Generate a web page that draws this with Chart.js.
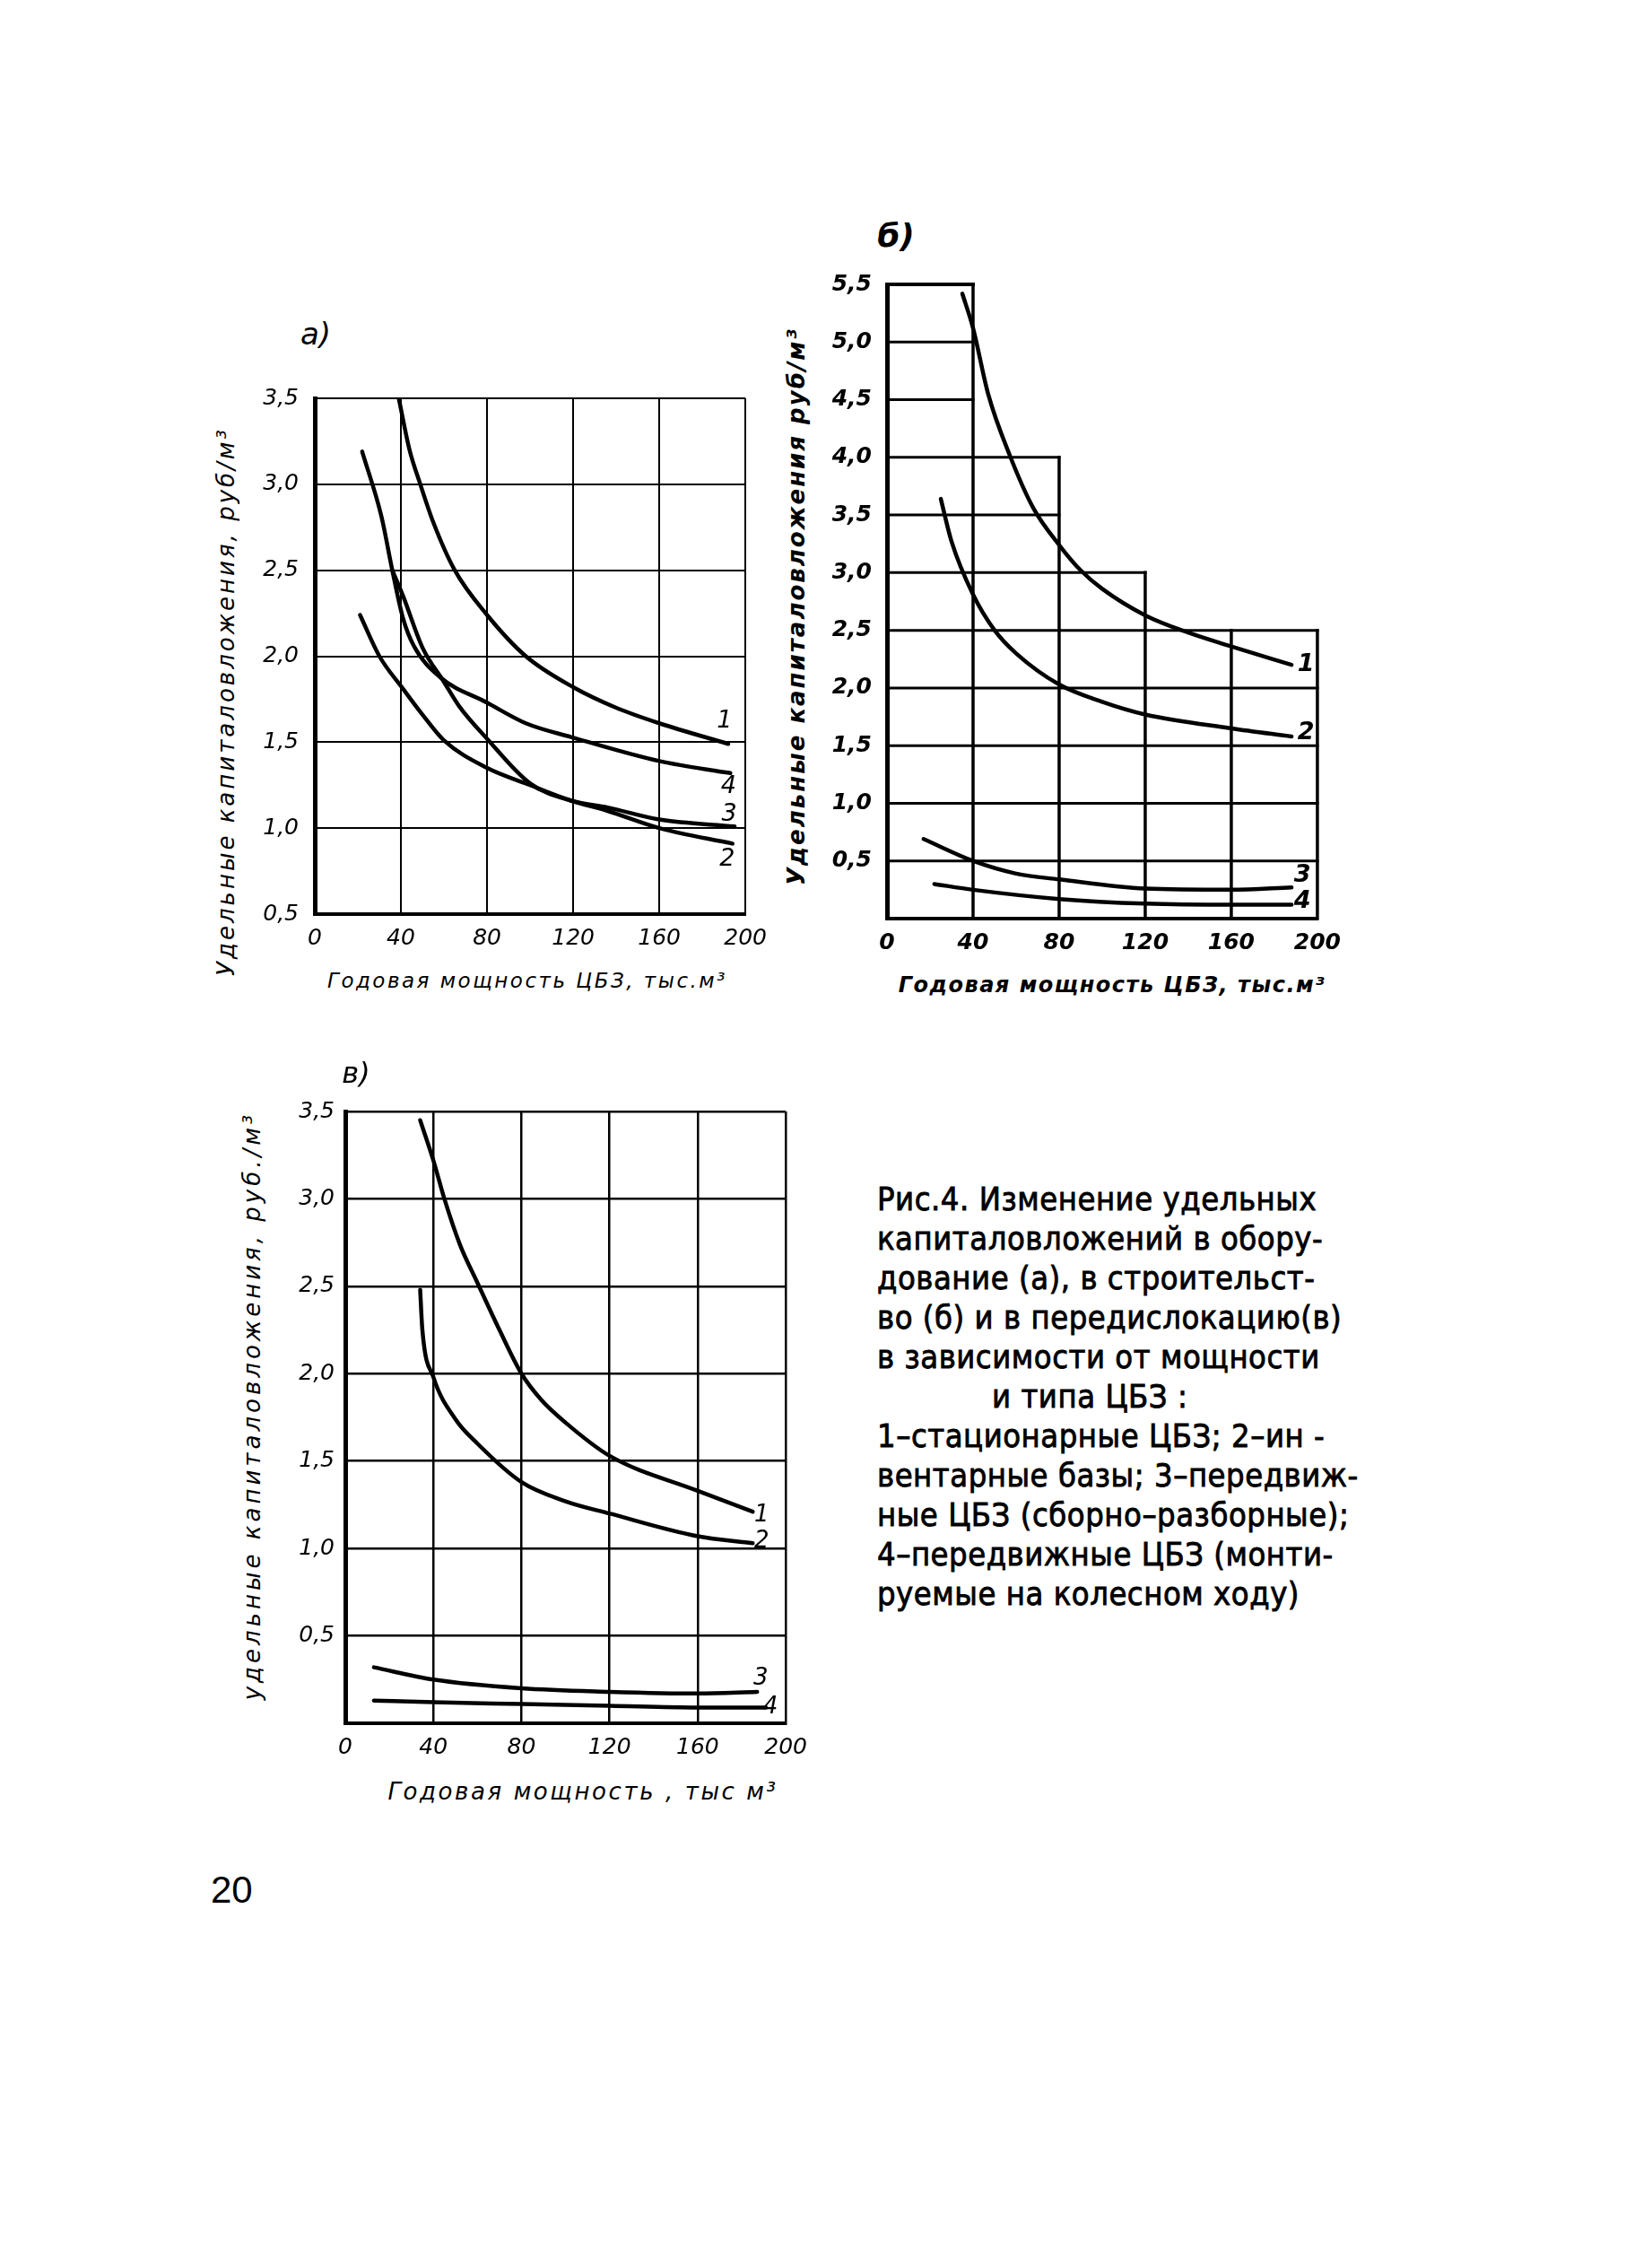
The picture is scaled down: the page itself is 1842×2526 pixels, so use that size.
<!DOCTYPE html>
<html lang="ru">
<head>
<meta charset="UTF-8">
<title>Рис.4. Изменение удельных капиталовложений</title>
<script src="https://cdn.jsdelivr.net/npm/chart.js@4.4.1/dist/chart.umd.min.js"></script>
<style>
  html, body { margin: 0; padding: 0; background: #fff; }
  body { width: 1842px; height: 2526px; position: relative; overflow: hidden; color: #000; font-family: "DejaVu Sans", sans-serif; }
  canvas { position: absolute; }
  .txt { position: absolute; white-space: nowrap; transform: translate(-50%, -50%); line-height: 1; }
  .rot { transform: translate(-50%, -50%) rotate(-90deg); }
  .hand { font-style: italic; }
  .cap { position: absolute; left: 978px; white-space: pre; font-size: 36px; line-height: 1; letter-spacing: 0.6px;
         transform: translateY(-50%) scaleX(0.9); transform-origin: left center; -webkit-text-stroke: 0.9px #000; }
  .page { position: absolute; left: 235px; top: 2107px; transform: translateY(-50%); font-family: "Liberation Sans", sans-serif; font-size: 42px; line-height: 1; }
</style>
</head>
<body>

<canvas id="chartA" width="586" height="653" style="left:281px;top:411px"></canvas>
<canvas id="chartB" width="588" height="784" style="left:919px;top:285px"></canvas>
<canvas id="chartC" width="597" height="754" style="left:315px;top:1212px"></canvas>

<!-- подписи панелей -->
<div class="txt hand" style="left:352px;top:372px;font-size:34px">а)</div>
<div class="txt hand" style="left:999px;top:263px;font-size:36px;font-weight:bold">б)</div>
<div class="txt hand" style="left:397px;top:1196px;font-size:32px">в)</div>

<!-- подписи осей -->
<div class="txt hand rot" style="left:252px;top:782px;font-size:26px;letter-spacing:3px">Удельные капиталовложения, руб/м³</div>
<div class="txt hand" style="left:588px;top:1093px;font-size:23px;letter-spacing:2.5px">Годовая мощность ЦБЗ, тыс.м³</div>

<div class="txt hand rot" style="left:888px;top:676px;font-size:26px;font-weight:bold;letter-spacing:2px">Удельные капиталовложения руб/м³</div>
<div class="txt hand" style="left:1240px;top:1098px;font-size:24px;font-weight:bold;letter-spacing:1.5px">Годовая мощность ЦБЗ, тыс.м³</div>

<div class="txt hand rot" style="left:281px;top:1567px;font-size:26px;letter-spacing:4px">удельные капиталовложения, руб./м³</div>
<div class="txt hand" style="left:650px;top:1997px;font-size:26px;letter-spacing:2.6px">Годовая мощность , тыс м³</div>

<div id="caption"></div>
<div class="page">20</div>

<script>
// ---- ось X: годовая мощность, тыс. м³ ----
const xTicks = [0, 40, 80, 120, 160, 200];

// ---- а) оборудование ----
const aYTicks = [0.5, 1.0, 1.5, 2.0, 2.5, 3.0, 3.5];
const aX1 = [39, 44, 49, 55, 65, 80, 98, 120, 140, 160, 192];
const aY1 = [3.5, 3.2, 3.0, 2.78, 2.5, 2.24, 2.0, 1.82, 1.7, 1.61, 1.49];
const aX2 = [21, 30, 41, 50, 60, 80, 100, 119, 136, 160, 194];
const aY2 = [2.24, 2.0, 1.81, 1.66, 1.51, 1.35, 1.25, 1.16, 1.10, 1.0, 0.91];
const aX3 = [36, 41, 50, 60, 67, 80, 100, 119, 136, 160, 195];
const aY3 = [2.5, 2.35, 2.05, 1.85, 1.71, 1.52, 1.26, 1.16, 1.12, 1.05, 1.01];
const aX4 = [22, 31, 36, 41, 46, 58, 80, 98, 119, 160, 193];
const aY4 = [3.19, 2.81, 2.5, 2.22, 2.06, 1.88, 1.73, 1.61, 1.53, 1.39, 1.32];

// ---- б) строительство ----
const bYTicks = [0, 0.5, 1.0, 1.5, 2.0, 2.5, 3.0, 3.5, 4.0, 4.5, 5.0, 5.5];
const bX1 = [35, 40, 47, 57, 68, 80, 90, 100, 120, 140, 160, 188];
const bY1 = [5.42, 5.12, 4.55, 4.02, 3.56, 3.24, 3.02, 2.86, 2.63, 2.48, 2.36, 2.2];
const bX2 = [25, 30, 40, 50, 60, 80, 100, 120, 160, 188];
const bY2 = [3.64, 3.27, 2.81, 2.5, 2.3, 2.03, 1.88, 1.77, 1.65, 1.58];
const bX3 = [17, 40, 60, 80, 120, 160, 188];
const bY3 = [0.69, 0.5, 0.39, 0.34, 0.26, 0.25, 0.27];
const bX4 = [22, 40, 80, 120, 160, 188];
const bY4 = [0.30, 0.25, 0.17, 0.13, 0.12, 0.12];
// ступенчатая сетка графика б)
const stairX = [40, 80, 120, 200];
const stairTop = [5.5, 4.0, 3.0, 2.5];

// ---- в) передислокация ----
const cYTicks = [0, 0.5, 1.0, 1.5, 2.0, 2.5, 3.0, 3.5];
const cX1 = [34, 40, 45, 52, 60, 70, 80, 89, 100, 120, 160, 185];
const cY1 = [3.45, 3.22, 3.0, 2.74, 2.52, 2.25, 2.0, 1.85, 1.72, 1.53, 1.33, 1.21];
const cX2 = [34, 35, 40, 50, 60, 80, 100, 120, 160, 185];
const cY2 = [2.48, 2.25, 1.98, 1.74, 1.6, 1.38, 1.27, 1.2, 1.07, 1.03];
const cX3 = [13, 40, 80, 120, 160, 187];
const cY3 = [0.32, 0.25, 0.2, 0.18, 0.17, 0.18];
const cX4 = [13, 40, 80, 120, 160, 191];
const cY4 = [0.13, 0.12, 0.11, 0.1, 0.09, 0.09];

const curveNames = ["1", "2", "3", "4"];

const captionLines = [
  "Рис.4. Изменение удельных",
  "капиталовложений в обору-",
  "дование (а), в строительст-",
  "во (б) и в передислокацию(в)",
  "в зависимости от мощности",
  "и типа ЦБЗ :",
  "1–стационарные ЦБЗ; 2–ин -",
  "вентарные базы; 3–передвиж-",
  "ные ЦБЗ (сборно–разборные);",
  "4–передвижные ЦБЗ (монти-",
  "руемые на колесном ходу)"
];

// сдвиг номеров кривых от конца линии, px
const tagOffsetA = [[-4, -25], [-6, 18], [-6, -13], [-2, 15]];
const tagOffsetB = [[16, 0], [16, -4], [12, -13], [12, -4]];
const tagOffsetC = [[10, 4], [10, -2], [4, -15], [5, 0]];

// подпись рисунка
const capBox = document.getElementById("caption");
captionLines.forEach((line, i) => {
  const div = document.createElement("div");
  div.className = "cap";
  div.textContent = line;
  div.style.top = (1337 + i * 44) + "px";
  if (i === 5) div.style.left = "1106px";
  capBox.appendChild(div);
});

// номера кривых у правого конца
const curveTags = {
  id: "curveTags",
  afterDatasetsDraw(chart, args, opts) {
    const ctx = chart.ctx;
    ctx.save();
    ctx.fillStyle = "#000";
    ctx.font = opts.font;
    ctx.textAlign = "center";
    ctx.textBaseline = "middle";
    chart.data.datasets.forEach((ds, i) => {
      const pts = chart.getDatasetMeta(i).data;
      const last = pts[pts.length - 1];
      ctx.fillText(ds.tag, last.x + ds.tagOffset[0], last.y + ds.tagOffset[1]);
    });
    ctx.restore();
  }
};

// сетка-лесенка для графика б)
const stairGrid = {
  id: "stairGrid",
  beforeDatasetsDraw(chart) {
    const { ctx, scales: { x, y } } = chart;
    ctx.save();
    ctx.strokeStyle = "#000";
    ctx.lineCap = "square";
    y.ticks.forEach(t => {
      if (t.value === 0) return;
      let reach = 0;
      stairX.forEach((sx, i) => { if (stairTop[i] >= t.value - 1e-9) reach = sx; });
      const py = y.getPixelForValue(t.value);
      ctx.lineWidth = (t.value === 5.5) ? 4 : 3;
      ctx.beginPath();
      ctx.moveTo(x.getPixelForValue(0), py);
      ctx.lineTo(x.getPixelForValue(reach), py);
      ctx.stroke();
    });
    x.ticks.forEach(t => {
      if (t.value === 0) return;
      let prev = 0, top = 0;
      stairX.forEach((sx, i) => {
        if (t.value > prev && t.value <= sx) top = stairTop[i];
        prev = sx;
      });
      const px = x.getPixelForValue(t.value);
      ctx.lineWidth = 3.5;
      ctx.beginPath();
      ctx.moveTo(px, y.getPixelForValue(0));
      ctx.lineTo(px, y.getPixelForValue(top));
      ctx.stroke();
    });
    ctx.restore();
  }
};

function curve(xs, ys, idx, offsets) {
  return {
    data: xs.map((x, i) => ({ x: x, y: ys[i] })),
    borderColor: "#000",
    borderWidth: 4.5,
    pointRadius: 0,
    fill: false,
    cubicInterpolationMode: "monotone",
    borderCapStyle: "round",
    tag: curveNames[idx],
    tagOffset: offsets[idx]
  };
}

function commaLabel(v) {
  return v === 0 ? "" : v.toFixed(1).replace(".", ",");
}

function buildChart(id, cfg) {
  const ctx = document.getElementById(id).getContext("2d");
  const font = { family: "DejaVu Sans", size: cfg.tickSize, style: "italic", weight: cfg.weight };
  return new Chart(ctx, {
    type: "line",
    data: { datasets: cfg.datasets },
    options: {
      responsive: false,
      animation: false,
      events: [],
      layout: { padding: { left: 0, top: 20, right: 30, bottom: 0 } },
      plugins: {
        legend: { display: false },
        tooltip: { enabled: false },
        curveTags: { font: cfg.tagFont }
      },
      scales: {
        x: {
          type: "linear",
          min: 0,
          max: 200,
          afterFit: s => { s.height = 45; },
          afterBuildTicks: s => { s.ticks = xTicks.map(v => ({ value: v })); },
          ticks: { padding: 12, font: font, color: "#000", maxRotation: 0, autoSkip: false },
          grid: { display: cfg.grid, color: "#000", lineWidth: cfg.gridWidth, drawTicks: false },
          border: { color: "#000", width: 4 }
        },
        y: {
          type: "linear",
          min: cfg.yTicks[0],
          max: cfg.yTicks[cfg.yTicks.length - 1],
          afterFit: s => { s.width = 70; },
          afterBuildTicks: s => { s.ticks = cfg.yTicks.map(v => ({ value: v })); },
          ticks: { padding: cfg.yPad, font: font, color: "#000", autoSkip: false, callback: commaLabel },
          grid: { display: cfg.grid, color: "#000", lineWidth: cfg.gridWidth, drawTicks: false },
          border: { color: "#000", width: 5 }
        }
      }
    },
    plugins: cfg.plugins
  });
}

buildChart("chartA", {
  yTicks: aYTicks, yPad: 18, tickSize: 25, weight: "normal", grid: true, gridWidth: 2,
  tagFont: "italic 27px 'DejaVu Sans'",
  plugins: [curveTags],
  datasets: [
    curve(aX1, aY1, 0, tagOffsetA),
    curve(aX2, aY2, 1, tagOffsetA),
    curve(aX3, aY3, 2, tagOffsetA),
    curve(aX4, aY4, 3, tagOffsetA)
  ]
});

buildChart("chartB", {
  yTicks: bYTicks, yPad: 17, tickSize: 25, weight: "bold", grid: false, gridWidth: 3,
  tagFont: "italic bold 27px 'DejaVu Sans'",
  plugins: [stairGrid, curveTags],
  datasets: [
    curve(bX1, bY1, 0, tagOffsetB),
    curve(bX2, bY2, 1, tagOffsetB),
    curve(bX3, bY3, 2, tagOffsetB),
    curve(bX4, bY4, 3, tagOffsetB)
  ]
});

buildChart("chartC", {
  yTicks: cYTicks, yPad: 12, tickSize: 25, weight: "normal", grid: true, gridWidth: 2.5,
  tagFont: "italic 26px 'DejaVu Sans'",
  plugins: [curveTags],
  datasets: [
    curve(cX1, cY1, 0, tagOffsetC),
    curve(cX2, cY2, 1, tagOffsetC),
    curve(cX3, cY3, 2, tagOffsetC),
    curve(cX4, cY4, 3, tagOffsetC)
  ]
});
</script>
</body>
</html>
